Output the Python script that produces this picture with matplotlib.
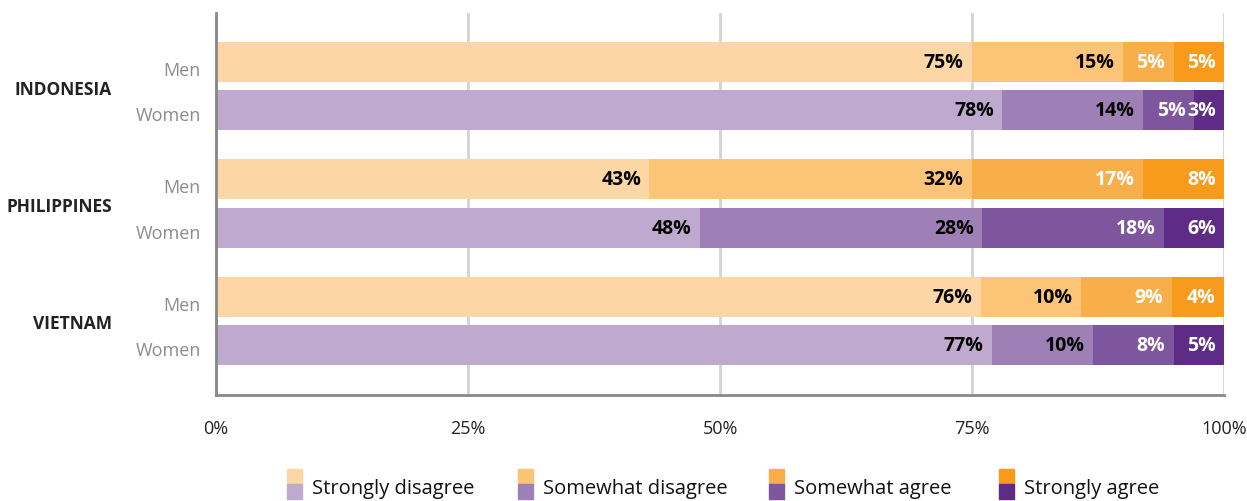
import numpy as np
import matplotlib
matplotlib.use("Agg")
import matplotlib.pyplot as plt
import matplotlib.transforms as mtransforms
from matplotlib.patches import Rectangle

plt.rcParams['font.family'] = ['Open Sans', 'DejaVu Sans']

# data (shares in %, as printed on the bars)
countries = ['INDONESIA', 'PHILIPPINES', 'VIETNAM']
genders = ['Men', 'Women']
categories = ['Strongly disagree', 'Somewhat disagree', 'Somewhat agree', 'Strongly agree']

men = [[75, 15, 5, 5],
       [43, 32, 17, 8],
       [76, 10, 9, 4]]
women = [[78, 14, 5, 3],
         [48, 28, 18, 6],
         [77, 10, 8, 5]]

# bar widths as drawn (the printed Vietnam men labels are rounded and sum to 99)
men_widths = [[75, 15, 5, 5],
              [43, 32, 17, 8],
              [75.9, 9.9, 9.0, 5.2]]
women_widths = women

men_colors = ['#FCD7A5', '#FBC477', '#F9AF49', '#F89B1D']
women_colors = ['#BFA9CF', '#9F80B6', '#7E569E', '#5E2B86']
label_colors = ['black', 'black', 'white', 'white']

fig = plt.figure(figsize=(12.47, 5.02), dpi=100)
ax = fig.add_axes([216 / 1247, 1 - 396 / 502, 1008 / 1247, 382 / 502])

group_gap = 2.44
bar_h = 0.83
ypos, ylabels = [], []
for g, country in enumerate(countries):
    for k, gender in enumerate(genders):
        y = g * group_gap + k
        vals = men[g] if k == 0 else women[g]
        widths = np.array(men_widths[g] if k == 0 else women_widths[g], dtype=float)
        shares = widths / widths.sum() * 100
        cols = men_colors if k == 0 else women_colors
        left = 0
        for i in range(len(vals)):
            ax.barh(y, shares[i], left=left, height=bar_h, color=cols[i], zorder=2)
            ax.annotate(f'{vals[i]}%', (left + shares[i], y), xytext=(-6, 0),
                        textcoords='offset points', ha='right', va='center',
                        fontsize=14, fontweight='bold', color=label_colors[i], zorder=3)
            left += shares[i]
        ypos.append(y)
        ylabels.append(gender)
    ax.text(-0.103, g * group_gap + 0.55, country, transform=ax.get_yaxis_transform(),
            ha='right', va='center', fontsize=12.5, fontweight='bold', color='#222222')

ax.set_yticks(ypos)
ax.set_yticklabels(ylabels, color='#8c8c8c', fontsize=13)
ax.tick_params(axis='y', length=0, pad=11)
ax.set_ylim(ypos[-1] + 1.04, -1.02)

# gender labels sit a little below the bar centres in the original
for lbl in ax.get_yticklabels():
    dy = -6 if lbl.get_text() == 'Men' else -3
    lbl.set_transform(lbl.get_transform() +
                      mtransforms.ScaledTranslation(0, dy / 100, fig.dpi_scale_trans))

ax.set_xlim(0, 100)
ax.set_xticks([0, 25, 50, 75, 100])
ax.set_xticklabels(['0%', '25%', '50%', '75%', '100%'], fontsize=13, color='#222222')
ax.tick_params(axis='x', length=0, pad=17)
ax.grid(axis='x', color='#d4d4d4', linewidth=2, zorder=0)

for s in ['top', 'right']:
    ax.spines[s].set_visible(False)
for s in ['left', 'bottom']:
    ax.spines[s].set_color('#888888')
    ax.spines[s].set_linewidth(2)

# legend: two-tone patches drawn in figure coordinates
leg_x = [287, 518, 769, 999]
for i, cat in enumerate(categories):
    x0 = leg_x[i] / 1247
    w = 15 / 1247
    h = 15 / 502
    fig.add_artist(Rectangle((x0, 1 - 485 / 502), w, h, color=men_colors[i],
                             transform=fig.transFigure))
    fig.add_artist(Rectangle((x0, 1 - 500 / 502), w, h, color=women_colors[i],
                             transform=fig.transFigure))
    fig.text(x0 + 25 / 1247, 1 - 489 / 502, cat, ha='left', va='center',
             fontsize=14.5, color='#111111')

fig.savefig('out.png', dpi=100)
